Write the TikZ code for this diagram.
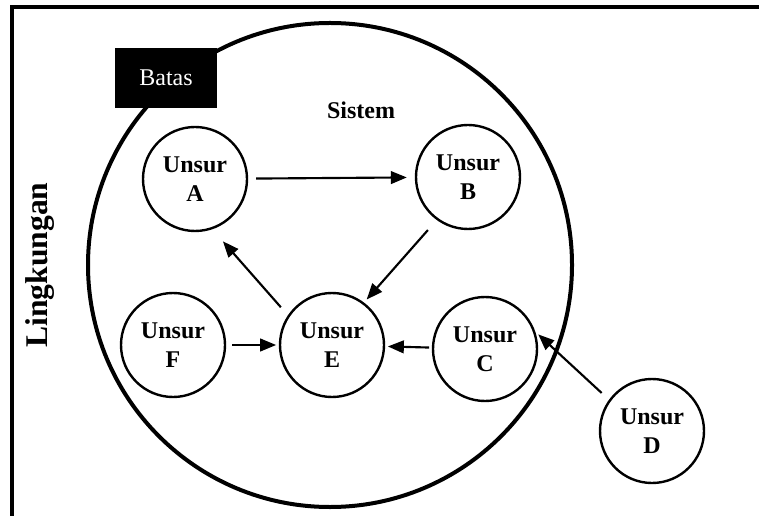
\documentclass[tikz,border=0pt]{standalone}
\usepackage{fontspec}
\setmainfont{Liberation Serif}
\usepackage{tikz}
\usetikzlibrary{arrows.meta}
\tikzset{
  unsur/.style={
    circle,
    draw=black,
    line width=1.8pt,
    minimum size=78pt,
    inner sep=0pt,
    align=center,
    font=\fontsize{18}{21.5}\selectfont\bfseries
  },
  link/.style={
    -{Triangle[length=12pt, width=9.5pt]},
    line width=1.6pt
  },
  batas box/.style={
    fill=black,
    text=white,
    minimum width=76pt,
    minimum height=45pt,
    inner sep=0pt,
    font=\fontsize{18}{21.5}\selectfont
  }
}

\begin{document}
\begin{tikzpicture}[x=0.75pt, y=-0.75pt]
    \useasboundingbox (0,0) rectangle (759,516);

    % bingkai lingkungan
    \draw[line width=2.4pt] (12,516) -- (12,7) -- (759,7);
    \node[rotate=90, font=\fontsize{23.7}{28}\selectfont\bfseries] (lingkungan) at (40,265) {Lingkungan};

    % batas sistem
    \draw[line width=3pt] (330,265) circle (242);
    \node[batas box] (batas) at (166,78) {Batas};
    \node[font=\fontsize{18}{21.5}\selectfont\bfseries] (sistem) at (361,110) {Sistem};

    % unsur
    \node[unsur] (A) at (195,179) {Unsur\\A};
    \node[unsur] (B) at (468,177) {Unsur\\B};
    \node[unsur] (E) at (332,345) {Unsur\\E};
    \node[unsur] (F) at (173,345) {Unsur\\F};
    \node[unsur] (C) at (485,349) {Unsur\\C};
    \node[unsur] (D) at (652,431) {Unsur\\D};

    % hubungan antar unsur
    \draw[link, shorten <=6pt, shorten >=6pt] (A) -- (B);
    \draw[link, shorten <=10pt, shorten >=3pt] (B.234) -- (E.53);
    \draw[link, shorten <=8pt, shorten >=12pt] (E.146) -- (A.289);
    \draw[link, shorten <=4.5pt, shorten >=2pt] (F) -- (E);
    \draw[link, shorten <=2pt, shorten >=2pt] (C) -- (E);
    \draw[link, shorten <=7.5pt, shorten >=3pt] (D.144) -- (C.19);

  \end{tikzpicture}
\end{document}
